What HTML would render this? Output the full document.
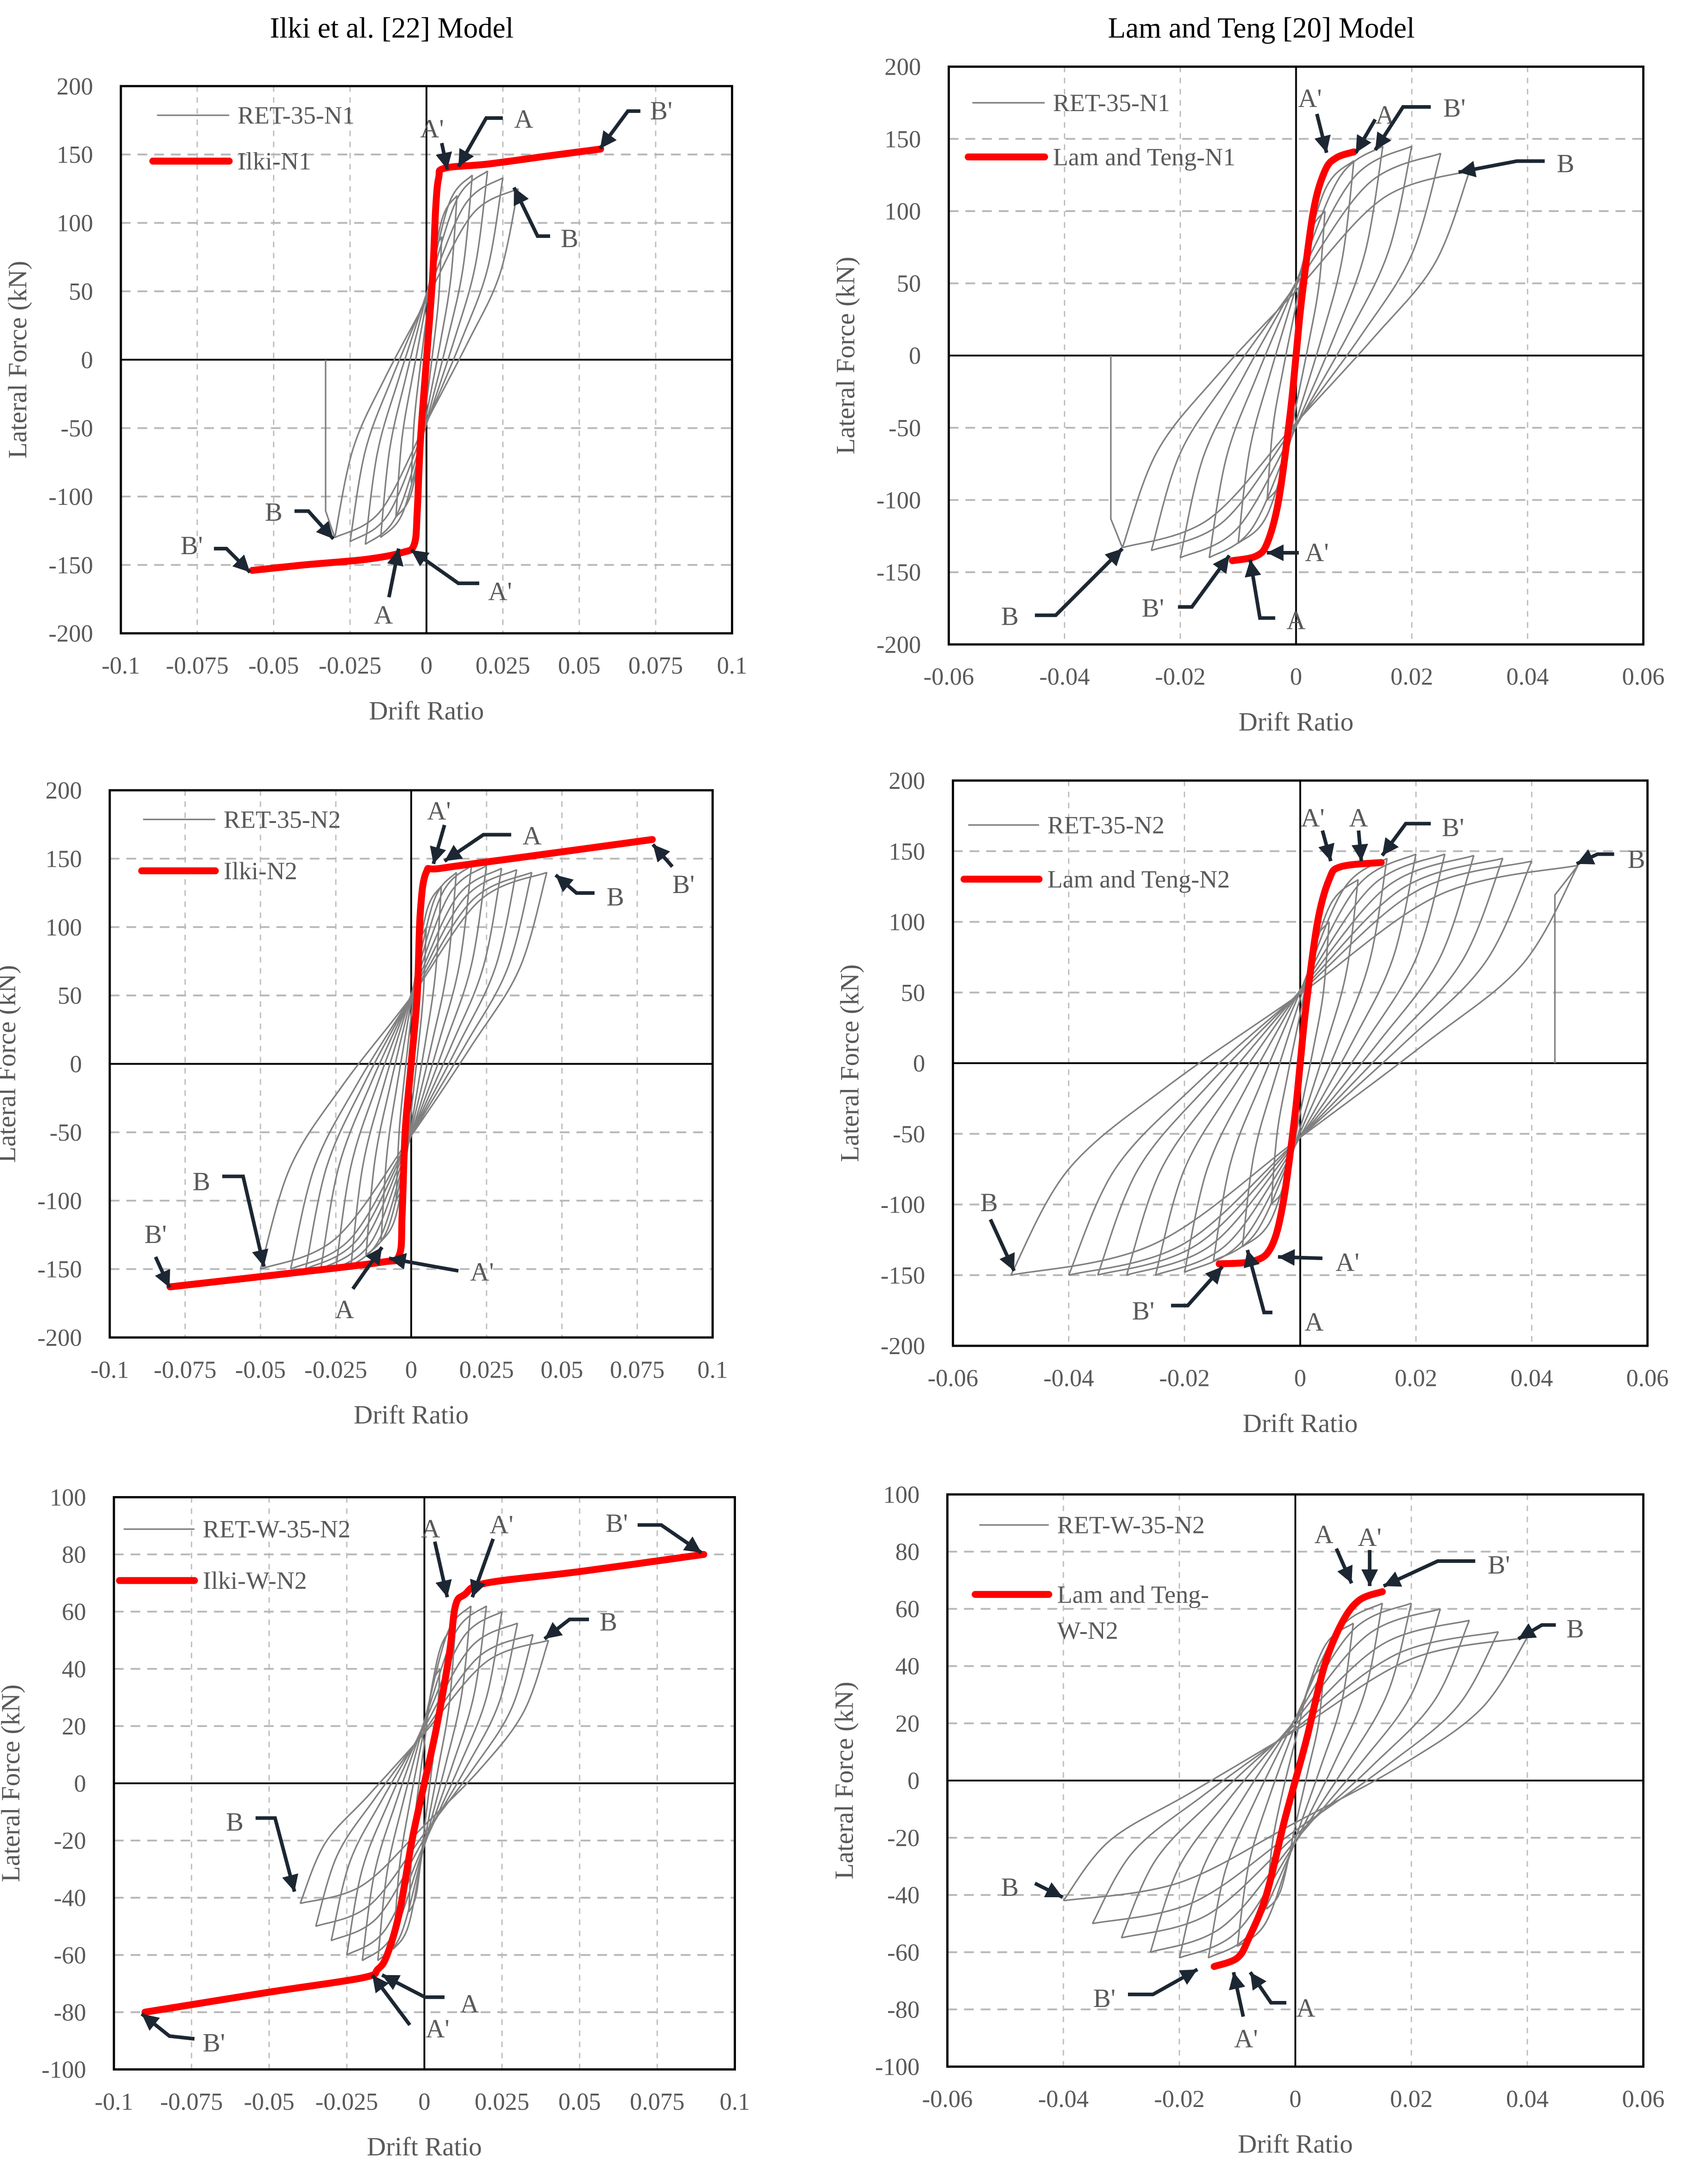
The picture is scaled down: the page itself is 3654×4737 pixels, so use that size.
<!DOCTYPE html>
<html><head><meta charset="utf-8">
<style>
html,body{margin:0;padding:0;background:#fff;}
svg{display:block;}
text{font-family:"Liberation Serif",serif;}
</style></head>
<body>
<svg id="fig" xmlns="http://www.w3.org/2000/svg" width="3654" height="4737" viewBox="0 0 1213 1572.5" preserveAspectRatio="none">
<rect x="0" y="0" width="1213" height="1572.5" fill="#fff"/>
<text x="282" y="27" font-size="21" text-anchor="middle" fill="#000">Ilki et al. [22] Model</text>
<text x="908" y="27" font-size="21" text-anchor="middle" fill="#000">Lam and Teng [20] Model</text>
</svg>
<script>
// ---------- data ----------
// Panel 1: RET-35-N1 vs Ilki-N1
const p1PosDrift=[0.005,0.01,0.015,0.02,0.025,0.03];
const p1PosForce=[90,120,135,138,133,125];
const p1NegDrift=[-0.005,-0.01,-0.015,-0.02,-0.025,-0.03];
const p1NegForce=[-90,-115,-130,-135,-133,-130];
const p1ModelDrift=[-0.057,-0.04,-0.02,-0.008,-0.004,-0.003,-0.002,0,0.002,0.003,0.004,0.006,0.02,0.04,0.057];
const p1ModelForce=[-154,-150,-146,-141,-135,-110,-60,0,60,110,133,140,143,149,154];
// Panel 2: RET-35-N1 vs Lam and Teng-N1
const p2PosDrift=[0.005,0.01,0.015,0.02,0.025,0.03];
const p2PosForce=[100,135,145,145,140,128];
const p2NegDrift=[-0.005,-0.01,-0.015,-0.02,-0.025,-0.03];
const p2NegForce=[-100,-130,-140,-140,-135,-133];
const p2ModelDrift=[-0.011,-0.007,-0.005,-0.003,-0.001,0,0.001,0.003,0.005,0.007,0.01];
const p2ModelForce=[-142,-139,-130,-100,-40,0,40,100,128,137,141];
// Panel 3: RET-35-N2 vs Ilki-N2
const p3PosDrift=[0.005,0.01,0.015,0.02,0.025,0.03,0.035,0.04,0.045];
const p3PosForce=[100,130,140,145,145,143,142,140,140];
const p3NegDrift=[-0.005,-0.01,-0.015,-0.02,-0.025,-0.03,-0.035,-0.04,-0.05];
const p3NegForce=[-100,-130,-140,-148,-150,-150,-150,-150,-150];
const p3ModelDrift=[-0.08,-0.04,-0.01,-0.004,-0.003,-0.002,0,0.002,0.003,0.005,0.01,0.04,0.08];
const p3ModelForce=[-163,-153,-145,-140,-110,-50,0,50,110,140,143,152,164];
// Panel 4: RET-35-N2 vs Lam and Teng-N2
const p4PosDrift=[0.005,0.01,0.015,0.02,0.025,0.03,0.035,0.04,0.048];
const p4PosForce=[100,130,145,148,148,147,145,143,140];
const p4NegDrift=[-0.005,-0.01,-0.015,-0.02,-0.025,-0.03,-0.035,-0.04,-0.05];
const p4NegForce=[-100,-130,-140,-148,-150,-150,-150,-150,-150];
const p4ModelDrift=[-0.014,-0.008,-0.005,-0.003,-0.001,0,0.001,0.003,0.005,0.007,0.014];
const p4ModelForce=[-142,-140,-130,-100,-40,0,40,100,130,139,142];
// Panel 5: RET-W-35-N2 vs Ilki-W-N2
const p5PosDrift=[0.005,0.01,0.015,0.02,0.025,0.03,0.035,0.04];
const p5PosForce=[40,55,62,62,60,56,52,50];
const p5NegDrift=[-0.005,-0.01,-0.015,-0.02,-0.025,-0.03,-0.035,-0.04];
const p5NegForce=[-45,-58,-62,-62,-60,-55,-50,-42];
const p5ModelDrift=[-0.09,-0.05,-0.02,-0.015,-0.012,-0.008,-0.004,0,0.004,0.008,0.01,0.013,0.02,0.05,0.09];
const p5ModelForce=[-80,-73,-68,-65,-60,-45,-20,0,20,45,62,66,70,74,80];
// Panel 6: RET-W-35-N2 vs Lam and Teng-W-N2
const p6PosDrift=[0.005,0.01,0.015,0.02,0.025,0.03,0.035,0.04];
const p6PosForce=[40,55,62,62,60,56,52,50];
const p6NegDrift=[-0.005,-0.01,-0.015,-0.02,-0.025,-0.03,-0.035,-0.04];
const p6NegForce=[-45,-58,-62,-62,-60,-55,-50,-42];
const p6ModelDrift=[-0.014,-0.01,-0.008,-0.005,-0.002,0,0.002,0.005,0.008,0.011,0.015];
const p6ModelForce=[-65,-62,-55,-40,-15,0,15,40,55,63,66];
// tick labels
const xTicksA=["-0.1","-0.075","-0.05","-0.025","0","0.025","0.05","0.075","0.1"];
const xTicksB=["-0.06","-0.04","-0.02","0","0.02","0.04","0.06"];
const yTicksA=["-200","-150","-100","-50","0","50","100","150","200"];
const yTicksB=["-100","-80","-60","-40","-20","0","20","40","60","80","100"];

// ---------- drawing ----------
const NS="http://www.w3.org/2000/svg";
const svg=document.getElementById('fig');
function mk(tag,attrs,parent){const e=document.createElementNS(NS,tag);for(const k in attrs)e.setAttribute(k,attrs[k]);(parent||svg).appendChild(e);return e;}
function smooth(pts){
  let d="M"+pts[0][0].toFixed(2)+","+pts[0][1].toFixed(2);
  for(let i=0;i<pts.length-1;i++){
    const p0=pts[Math.max(0,i-1)],p1=pts[i],p2=pts[i+1],p3=pts[Math.min(pts.length-1,i+2)];
    const c1=[p1[0]+(p2[0]-p0[0])/6,p1[1]+(p2[1]-p0[1])/6];
    const c2=[p2[0]-(p3[0]-p1[0])/6,p2[1]-(p3[1]-p1[1])/6];
    d+="C"+c1[0].toFixed(2)+","+c1[1].toFixed(2)+" "+c2[0].toFixed(2)+","+c2[1].toFixed(2)+" "+p2[0].toFixed(2)+","+p2[1].toFixed(2);
  }
  return d;
}
const panels=[
 {id:1,x0:87,x1:527,yT:62,yB:456,xmin:-0.1,xmax:0.1,ymin:-200,ymax:200,xt:xTicksA,yt:yTicksA,pd:p1PosDrift,pf:p1PosForce,nd:p1NegDrift,nf:p1NegForce,md:p1ModelDrift,mf:p1ModelForce,drop:-0.033,
  leg:[[113,165,83,"RET-35-N1"],[110,165,116,"Ilki-N1"]],
  ann:[["A",377,92,[[362,85],[350,85],[330,120]]],["A'",311,99,[[318,103],[322,122]]],["B'",476,86,[[461,80],[452,80],[432,107]]],["B",410,178,[[396,170],[387,170],[370,135]]],["B",197,375,[[212,368],[222,368],[240,388]]],["B'",138,399,[[154,395],[163,395],[180,412]]],["A",276,449,[[280,430],[287,395]]],["A'",360,432,[[345,420],[330,420],[296,396]]]]},
 {id:2,x0:683,x1:1183,yT:48,yB:464,xmin:-0.06,xmax:0.06,ymin:-200,ymax:200,xt:xTicksB,yt:yTicksA,pd:p2PosDrift,pf:p2PosForce,nd:p2NegDrift,nf:p2NegForce,md:p2ModelDrift,mf:p2ModelForce,drop:-0.032,
  leg:[[700,752,74,"RET-35-N1"],[697,752,113,"Lam and Teng-N1"]],
  ann:[["A'",943,77,[[948,82],[955,110]]],["A",997,89,[[990,86],[976,110]]],["B'",1047,84,[[1030,77],[1010,77],[990,108]]],["B",1127,124,[[1112,116],[1092,116],[1050,124]]],["A'",948,404,[[935,398],[912,398]]],["B'",830,444,[[848,437],[858,437],[885,400]]],["A",933,453,[[918,445],[907,445],[900,403]]],["B",727,450,[[745,443],[760,443],[808,395]]]]},
 {id:3,x0:79,x1:513,yT:569,yB:963,xmin:-0.1,xmax:0.1,ymin:-200,ymax:200,xt:xTicksA,yt:yTicksA,pd:p3PosDrift,pf:p3PosForce,nd:p3NegDrift,nf:p3NegForce,md:p3ModelDrift,mf:p3ModelForce,drop:null,
  leg:[[103,155,590,"RET-35-N2"],[102,155,627,"Ilki-N2"]],
  ann:[["A'",316,590,[[320,594],[312,622]]],["A",383,608,[[368,601],[348,601],[320,620]]],["B'",492,643,[[484,624],[470,608]]],["B",443,652,[[428,643],[415,643],[400,630]]],["B",145,857,[[160,847],[175,847],[190,912]]],["B'",112,895,[[112,905],[122,927]]],["A",248,949,[[254,928],[275,898]]],["A'",347,922,[[330,915],[313,912],[280,906]]]]},
 {id:4,x0:686,x1:1186,yT:562,yB:969,xmin:-0.06,xmax:0.06,ymin:-200,ymax:200,xt:xTicksB,yt:yTicksA,pd:p4PosDrift,pf:p4PosForce,nd:p4NegDrift,nf:p4NegForce,md:p4ModelDrift,mf:p4ModelForce,drop:0.044,
  leg:[[697,748,594,"RET-35-N2"],[694,748,633,"Lam and Teng-N2"]],
  ann:[["A'",945,595,[[952,598],[958,620]]],["A",978,595,[[978,598],[980,620]]],["B'",1046,602,[[1030,593],[1012,593],[995,616]]],["B",1178,625,[[1162,615],[1150,615],[1135,622]]],["B",712,872,[[713,878],[730,915]]],["A'",970,915,[[952,906],[920,905]]],["B'",823,950,[[843,940],[855,940],[880,912]]],["A",946,958,[[916,945],[910,945],[898,900]]]]},
 {id:5,x0:82,x1:529,yT:1078,yB:1490,xmin:-0.1,xmax:0.1,ymin:-100,ymax:100,xt:xTicksA,yt:yTicksB,pd:p5PosDrift,pf:p5PosForce,nd:p5NegDrift,nf:p5NegForce,md:p5ModelDrift,mf:p5ModelForce,drop:null,
  leg:[[89,140,1101,"RET-W-35-N2"],[86,140,1138,"Ilki-W-N2"]],
  ann:[["A",310,1107,[[313,1110],[322,1150]]],["A'",361,1104,[[355,1108],[340,1150]]],["B'",444,1103,[[459,1098],[476,1098],[505,1118]]],["B",438,1174,[[424,1166],[410,1166],[392,1180]]],["B",169,1318,[[184,1309],[198,1309],[212,1362]]],["A",338,1449,[[320,1438],[306,1438],[275,1422]]],["A'",315,1467,[[295,1458],[268,1422]]],["B'",154,1477,[[140,1468],[122,1466],[102,1450]]]]},
 {id:6,x0:682,x1:1183,yT:1076,yB:1488,xmin:-0.06,xmax:0.06,ymin:-100,ymax:100,xt:xTicksB,yt:yTicksB,pd:p6PosDrift,pf:p6PosForce,nd:p6NegDrift,nf:p6NegForce,md:p6ModelDrift,mf:p6ModelForce,drop:null,
  leg:[[705,755,1098,"RET-W-35-N2"],[702,755,1148,"Lam and Teng-"]],
  ann:[["A",953,1111,[[962,1115],[973,1140]]],["A'",986,1113,[[986,1116],[986,1142]]],["B'",1079,1133,[[1062,1124],[1035,1124],[996,1142]]],["B",1134,1179,[[1120,1170],[1110,1170],[1093,1180]]],["B",727,1365,[[745,1356],[765,1366]]],["B'",795,1445,[[812,1436],[830,1436],[862,1418]]],["A",940,1452,[[926,1442],[915,1442],[900,1420]]],["A'",897,1474,[[895,1452],[888,1420]]]]}
];
panels.forEach(P=>{
  const g=mk('g',{});
  
  
  const sx=v=>P.x0+(v-P.xmin)/(P.xmax-P.xmin)*(P.x1-P.x0);
  const sy=v=>P.yB-(v-P.ymin)/(P.ymax-P.ymin)*(P.yB-P.yT);
  // grid
  P.xt.forEach((t,i)=>{
    const v=P.xmin+i*(P.xmax-P.xmin)/(P.xt.length-1);const x=sx(v);
    if(i>0&&i<P.xt.length-1&&Math.abs(v)>1e-9){const l=mk('line',{x1:x,x2:x,y1:P.yT,y2:P.yB,stroke:'#c0c0c0','stroke-width':1,'stroke-dasharray':'4,4'},g);}
    const tx=mk('text',{x:x,y:P.yB+29,'font-size':17.5,'text-anchor':'middle',fill:'#595959'},g);tx.textContent=t;
    
  });
  P.yt.forEach((t,i)=>{
    const v=P.ymin+i*(P.ymax-P.ymin)/(P.yt.length-1);const y=sy(v);
    if(i>0&&i<P.yt.length-1&&Math.abs(v)>1e-9){const l=mk('line',{x1:P.x0,x2:P.x1,y1:y,y2:y,stroke:'#b8b8b8','stroke-width':1.3,'stroke-dasharray':'7,5'},g);}
    const tx=mk('text',{x:P.x0-20,y:y+6,'font-size':17.5,'text-anchor':'end',fill:'#595959'},g);tx.textContent=t;
    
  });
  // zero axes
  const zx=mk('line',{x1:P.x0,x2:P.x1,y1:sy(0),y2:sy(0),stroke:'#000','stroke-width':1.3},g);
  const zy=mk('line',{x1:sx(0),x2:sx(0),y1:P.yT,y2:P.yB,stroke:'#000','stroke-width':1.3},g);
  // hysteresis loops
  const n=Math.min(P.pd.length,P.nd.length);
  for(let i=0;i<n;i++){
    const dp=P.pd[i],fp=P.pf[i],dn=P.nd[i],fn=P.nf[i];
    const up=[[dn,fn],[0.8*dn,0.5*fn],[0.45*dn,0.1*fn],[0,0.35*fp],[0.5*dp,0.85*fp],[dp,fp]];
    const down=[[dp,fp],[0.8*dp,0.5*fp],[0.45*dp,0.1*fp],[0,0.35*fn],[0.5*dn,0.85*fn],[dn,fn]];
    [up,down].forEach((arr,k)=>{
      const p=mk('path',{d:smooth(arr.map(q=>[sx(q[0]),sy(q[1])])),fill:'none',stroke:'#808080','stroke-width':1.1},g);
      
      
    });
  }
  if(P.drop!==null){
    const last=P.drop<0?[P.nd[n-1],P.nf[n-1]]:[P.pd[n-1],P.pf[n-1]];
    const l=mk('polyline',{points:[[sx(last[0]),sy(last[1])],[sx(P.drop),sy(last[1]*0.85)],[sx(P.drop),sy(0)]].map(q=>q.join(',')).join(' '),fill:'none',stroke:'#808080','stroke-width':1.1},g);
    
    
  }
  // frame
  const fr=mk('rect',{x:P.x0,y:P.yT,width:P.x1-P.x0,height:P.yB-P.yT,fill:'none',stroke:'#000','stroke-width':1.6},g);
  
  // model curve
  const mc=mk('path',{d:smooth(P.md.map((d,i)=>[sx(d),sy(P.mf[i])])),fill:'none',stroke:'#ff0000','stroke-width':5,'stroke-linecap':'round','stroke-linejoin':'round'},g);
  
  // annotations
  P.ann.forEach(a=>{
    const pts=a[3];
    const pl=mk('polyline',{points:pts.map(q=>q.join(',')).join(' '),fill:'none',stroke:'#1c2733','stroke-width':2.6},g);
    
    const e=pts[pts.length-1],b=pts[pts.length-2];
    const ang=Math.atan2(e[1]-b[1],e[0]-b[0]);const L=12,W=6;
    const bx=e[0]-L*Math.cos(ang),by=e[1]-L*Math.sin(ang);
    const h=mk('polygon',{points:[[e[0],e[1]],[bx+W*Math.sin(ang),by-W*Math.cos(ang)],[bx-W*Math.sin(ang),by+W*Math.cos(ang)]].map(q=>q.join(',')).join(' '),fill:'#1c2733'},g);
    
    const t=mk('text',{x:a[1],y:a[2],'font-size':19,'text-anchor':'middle',fill:'#595959'},g);t.textContent=a[0];
    
  });
  // legend
  const lg=mk('g',{},g);
  P.leg.forEach((L,k)=>{
    const ln=mk('line',{x1:L[0],x2:L[1],y1:L[2],y2:L[2],stroke:k?'#ff0000':'#808080','stroke-width':k?5:1.1,'stroke-linecap':k?'round':'butt'},lg);
    
    const t=mk('text',{x:L[1]+6,y:L[2]+6,'font-size':18,fill:'#595959'},lg);t.textContent=L[3];
    
  });
  if(P.id===6){const t=mk('text',{x:761,y:1180,'font-size':18,fill:'#595959'},lg);t.textContent="W-N2";}
  // axis titles
  const xt=mk('text',{x:sx(0),y:P.yB+62,'font-size':19,'text-anchor':'middle',fill:'#595959'},g);xt.textContent="Drift Ratio";
  
  const cy=(P.yT+P.yB)/2,cx=P.x0-68;
  const yt=mk('text',{x:cx,y:cy,'font-size':19,'text-anchor':'middle',fill:'#595959',transform:'rotate(-90 '+cx+' '+cy+')'},g);yt.textContent="Lateral Force (kN)";
  
});
</script>
</body></html>
